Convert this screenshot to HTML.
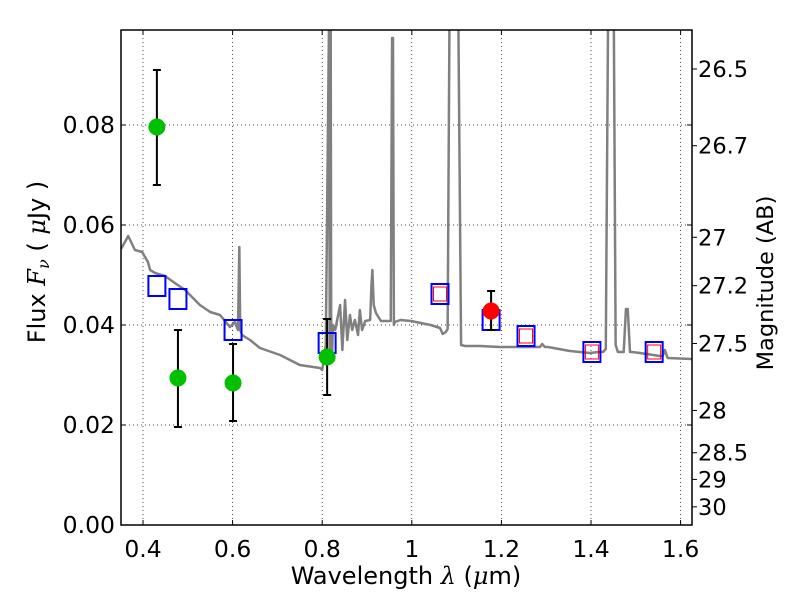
<!DOCTYPE html>
<html><head><meta charset="utf-8"><style>
body{margin:0;background:#fff}
svg text{font-family:"DejaVu Sans","Liberation Sans",sans-serif;fill:#000}
</style></head><body>
<svg id="c" width="800" height="600" xmlns="http://www.w3.org/2000/svg"></svg>
<script>
const specL=[0.351,0.367,0.382,0.398,0.411,0.416,0.427,0.449,0.471,0.494,0.516,0.527,0.550,0.572,0.594,0.605,0.612,0.615,0.617,0.621,0.639,0.661,0.706,0.750,0.795,0.800,0.808,0.815,0.817,0.819,0.820,0.822,0.824,0.829,0.840,0.845,0.851,0.856,0.862,0.867,0.873,0.880,0.884,0.889,0.896,0.907,0.910,0.912,0.915,0.920,0.931,0.953,0.956,0.958,0.960,0.962,0.975,0.998,1.020,1.042,1.063,1.069,1.076,1.080,1.084,1.090,1.104,1.110,1.119,1.152,1.196,1.241,1.286,1.291,1.297,1.304,1.353,1.398,1.416,1.427,1.433,1.438,1.446,1.451,1.455,1.460,1.473,1.478,1.482,1.487,1.491,1.509,1.554,1.560,1.565,1.571,1.625];
const specF=[0.0552,0.0578,0.055,0.0546,0.0526,0.051,0.0504,0.0498,0.0484,0.047,0.045,0.044,0.0426,0.042,0.0396,0.0406,0.039,0.0556,0.039,0.038,0.037,0.0354,0.034,0.032,0.0314,0.0310,0.036,0.099,0.035,0.099,0.041,0.034,0.040,0.039,0.044,0.035,0.045,0.037,0.042,0.039,0.041,0.038,0.043,0.039,0.0408,0.041,0.048,0.051,0.044,0.0424,0.0408,0.0408,0.0974,0.0974,0.040,0.0406,0.041,0.0408,0.0404,0.040,0.0394,0.0382,0.0386,0.0392,0.10,0.10,0.10,0.036,0.0358,0.0358,0.0356,0.0356,0.0356,0.0362,0.0356,0.0356,0.0348,0.0344,0.0346,0.0346,0.0352,0.10,0.10,0.10,0.036,0.0346,0.0346,0.0432,0.0432,0.0346,0.0346,0.0344,0.0338,0.0338,0.0350,0.0334,0.0332];
const boxL=[0.431,0.478,0.601,0.811,1.063,1.177,1.255,1.402,1.541];
const boxF=[0.0478,0.0452,0.039,0.0364,0.0462,0.041,0.0378,0.0346,0.0346];
const redBoxIdx=[4,6,7,8];
const gL=[0.431,0.478,0.601,0.811];
const gF=[0.0796,0.0294,0.0284,0.0336];
const gLo=[0.068,0.0196,0.0208,0.026];
const gHi=[0.091,0.039,0.0362,0.0412];
const rL=[1.177], rF=[0.0428], rLo=[0.039], rHi=[0.0468];
const xTicks=[0.4,0.6,0.8,1.0,1.2,1.4,1.6];
const xTickLabels=["0.4","0.6","0.8","1","1.2","1.4","1.6"];
const yTicks=[0,0.02,0.04,0.06,0.08];
const yTickLabels=["0.00","0.02","0.04","0.06","0.08"];
const magTicks=[26.5,26.7,27,27.2,27.5,28,28.5,29,30];
const magLabels=["26.5","26.7","27","27.2","27.5","28","28.5","29","30"];

const L=121,R=692,T=30,B=525;
const X=v=>143+(v-0.4)*448;
const Y=v=>525-v*5000;
const NS="http://www.w3.org/2000/svg";
const svg=document.getElementById('c');
function mk(t,a,p){const e=document.createElementNS(NS,t);for(const k in a)e.setAttribute(k,a[k]);(p||svg).appendChild(e);return e;}
const clip=mk('clipPath',{id:'cp'});mk('rect',{x:L,y:T,width:R-L,height:B-T},clip);
xTicks.forEach((v,i)=>{
 const g=mk('line',{x1:X(v),x2:X(v),y1:T,y2:B,stroke:'#000','stroke-width':0.7,'stroke-dasharray':'1,3'});
 
 mk('line',{x1:X(v),x2:X(v),y1:B,y2:B-5,stroke:'#000'});
 mk('line',{x1:X(v),x2:X(v),y1:T,y2:T+5,stroke:'#000'});
 const t=mk('text',{x:X(v),y:B+32,'text-anchor':'middle','font-size':23.5});t.textContent=xTickLabels[i];
 
});
yTicks.forEach((v,i)=>{
 if(v>0){const g=mk('line',{x1:L,x2:R,y1:Y(v),y2:Y(v),stroke:'#000','stroke-width':0.7,'stroke-dasharray':'1,3'});
 }
 mk('line',{x1:L,x2:L+5,y1:Y(v),y2:Y(v),stroke:'#000'});
 mk('line',{x1:R,x2:R-5,y1:Y(v),y2:Y(v),stroke:'#000'});
 const t=mk('text',{x:L-6,y:Y(v)+8,'text-anchor':'end','font-size':23.5});t.textContent=yTickLabels[i];
 
});
magTicks.forEach((m,i)=>{
 const f=Math.pow(10,(23.9-m)/2.5);const y=Y(f);
 mk('line',{x1:R,x2:R+5,y1:y,y2:y,stroke:'#000'});
 const t=mk('text',{x:R+6,y:y+8,'font-size':22.5});t.textContent=magLabels[i];
 
});
const gp=mk('g',{'clip-path':'url(#cp)'});
const sp=mk('polyline',{points:specL.map((l,i)=>X(l)+','+Y(specF[i])).join(' '),fill:'none',stroke:'#808080','stroke-width':2.5,'stroke-linejoin':'round'},gp);

boxL.forEach((l,i)=>{
 const b=mk('rect',{x:X(l)-8.5,y:Y(boxF[i])-10,width:17,height:20,fill:'none',stroke:'#00f','stroke-width':2});
 
});
redBoxIdx.forEach(i=>{
 const b=mk('rect',{x:X(boxL[i])-6.5,y:Y(boxF[i])-7,width:13,height:14,fill:'none',stroke:'#f00','stroke-width':1});
 
});
function pts(Ls,Fs,lo,hi,col,name){
 Ls.forEach((l,i)=>{
  const x=X(l);
  mk('line',{x1:x,x2:x,y1:Y(lo[i]),y2:Y(hi[i]),stroke:'#000','stroke-width':2});
  mk('line',{x1:x-4,x2:x+4,y1:Y(lo[i]),y2:Y(lo[i]),stroke:'#000','stroke-width':2});
  mk('line',{x1:x-4,x2:x+4,y1:Y(hi[i]),y2:Y(hi[i]),stroke:'#000','stroke-width':2});
  const c=mk('circle',{cx:x,cy:Y(Fs[i]),r:8.5,fill:col});
  
 });
}
pts(gL,gF,gLo,gHi,'#00c000','observed-point');
pts(rL,rF,rLo,rHi,'#f00','observed-point-red');
const fr=mk('rect',{x:L,y:T,width:R-L,height:B-T,fill:'none',stroke:'#000','stroke-width':1.5});

</script>
<svg width="800" height="600" style="position:absolute;left:0;top:0" xmlns="http://www.w3.org/2000/svg">
<text x="406" y="584" text-anchor="middle" font-size="24" style="font-family:'DejaVu Sans',sans-serif">Wavelength  <tspan font-style="italic" font-family="DejaVu Serif">λ</tspan> (<tspan font-style="italic" font-family="DejaVu Serif">μ</tspan>m)</text>
<text transform="translate(45,262) rotate(-90)" text-anchor="middle" font-size="24" style="font-family:'DejaVu Sans',sans-serif">Flux  <tspan font-style="italic" font-family="DejaVu Serif">F</tspan><tspan font-style="italic" font-size="16" dy="4" font-family="DejaVu Serif">ν</tspan><tspan dy="-4">  (  </tspan><tspan font-style="italic" font-family="DejaVu Serif">μ</tspan>Jy )</text>
<text transform="translate(773,283) rotate(-90)" text-anchor="middle" font-size="22.5" style="font-family:'DejaVu Sans',sans-serif">Magnitude (AB)</text>
</svg>
</body></html>
